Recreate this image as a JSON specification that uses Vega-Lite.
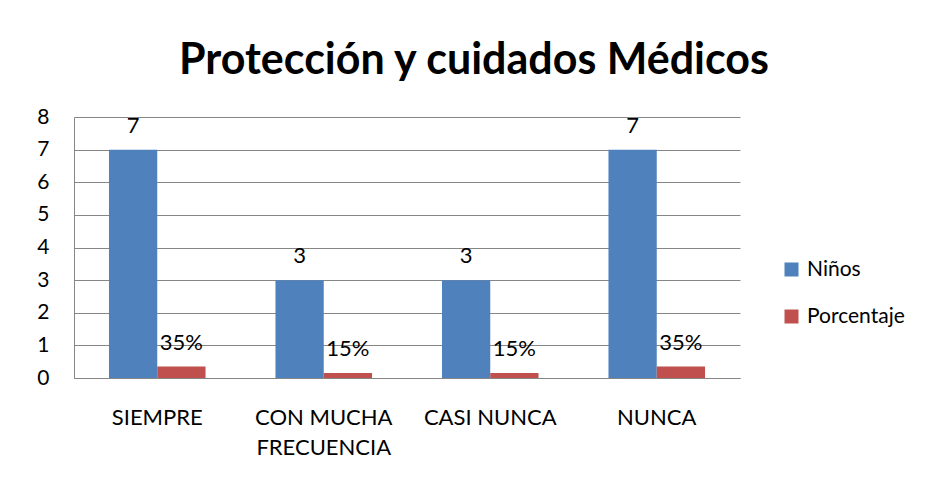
{
  "$schema": "https://vega.github.io/schema/vega-lite/v6.json",
  "width": 666,
  "height": 261,
  "autosize": "none",
  "padding": {"left": 74, "top": 117, "right": 189, "bottom": 107},
  "background": "white",
  "title": {
    "text": "Protección y cuidados Médicos",
    "font": "Lato",
    "fontSize": 43,
    "fontWeight": "bold",
    "color": "black",
    "anchor": "middle",
    "dx": 67,
    "offset": 23
  },
  "data": {
    "values": [
      {"categoria": "SIEMPRE", "serie": "Niños", "valor": 7, "etiqueta": "7"},
      {"categoria": "SIEMPRE", "serie": "Porcentaje", "valor": 0.35, "etiqueta": "35%"},
      {"categoria": "CON MUCHA FRECUENCIA", "serie": "Niños", "valor": 3, "etiqueta": "3"},
      {"categoria": "CON MUCHA FRECUENCIA", "serie": "Porcentaje", "valor": 0.15, "etiqueta": "15%"},
      {"categoria": "CASI NUNCA", "serie": "Niños", "valor": 3, "etiqueta": "3"},
      {"categoria": "CASI NUNCA", "serie": "Porcentaje", "valor": 0.15, "etiqueta": "15%"},
      {"categoria": "NUNCA", "serie": "Niños", "valor": 7, "etiqueta": "7"},
      {"categoria": "NUNCA", "serie": "Porcentaje", "valor": 0.35, "etiqueta": "35%"}
    ]
  },
  "encoding": {
    "x": {
      "field": "categoria",
      "type": "nominal",
      "sort": null,
      "scale": {"paddingInner": 0.42, "paddingOuter": 0.21},
      "axis": {
        "title": null,
        "labelAngle": 0,
        "labelFont": "Lato",
        "labelFontSize": 22,
        "labelColor": "black",
        "labelPadding": 29,
        "labelLineHeight": 30,
        "labelBaseline": "top",
        "labelOverlap": false,
        "labelLimit": 300,
        "ticks": false,
        "domainColor": "#868686",
        "grid": false,
        "labelExpr": "datum.label == 'CON MUCHA FRECUENCIA' ? ['CON MUCHA', 'FRECUENCIA'] : datum.label"
      }
    },
    "xOffset": {"field": "serie", "type": "nominal", "scale": {"paddingInner": 0, "paddingOuter": 0}},
    "y": {
      "field": "valor",
      "type": "quantitative",
      "scale": {"domain": [0, 8], "nice": false},
      "axis": {
        "title": null,
        "values": [0, 1, 2, 3, 4, 5, 6, 7, 8],
        "labelOverlap": false,
        "labelFont": "Lato",
        "labelFontSize": 21,
        "labelColor": "black",
        "labelPadding": 25,
        "ticks": false,
        "domainColor": "#868686",
        "gridColor": "#868686",
        "gridOpacity": 1
      }
    }
  },
  "layer": [
    {
      "mark": {"type": "bar"},
      "encoding": {
        "color": {
          "field": "serie",
          "type": "nominal",
          "scale": {"domain": ["Niños", "Porcentaje"], "range": ["#4F81BD", "#C0504D"]},
          "legend": {
            "title": null,
            "orient": "none",
            "legendX": 707,
            "legendY": 142,
            "symbolType": "square",
            "symbolSize": 196,
            "symbolStrokeWidth": 0,
            "labelFont": "Lato",
            "labelFontSize": 21,
            "labelColor": "black",
            "rowPadding": 25,
            "labelOffset": 5,
            "labelLimit": 300
          }
        }
      }
    },
    {
      "mark": {"type": "text", "baseline": "bottom", "dy": -12, "font": "Lato", "fontSize": 22, "color": "black"},
      "encoding": {"text": {"field": "etiqueta"}}
    }
  ],
  "config": {"view": {"stroke": null}}
}
